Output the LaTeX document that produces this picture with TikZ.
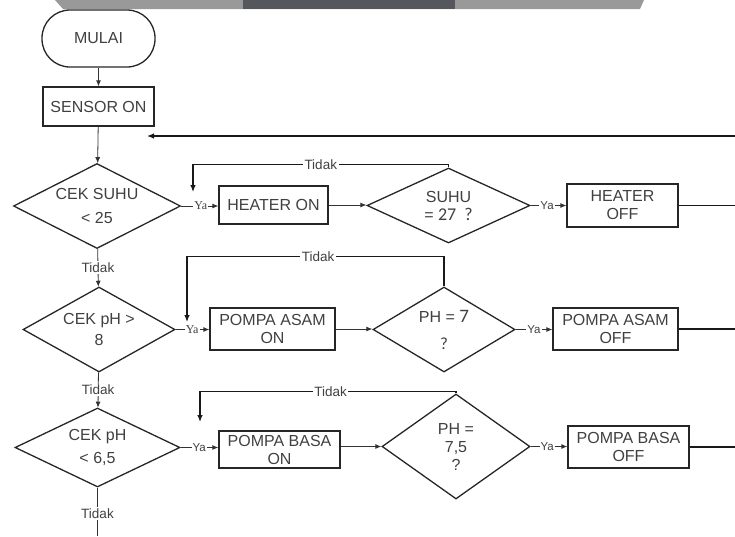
\documentclass[tikz,border=0pt]{standalone}
\usepackage{fontspec}
\setmainfont{Liberation Sans}
\newfontfamily\serifya{Liberation Serif}
\newfontfamily\calib{Carlito}
\usetikzlibrary{shapes.geometric,arrows.meta}
\begin{document}
\begin{tikzpicture}[x=1pt,y=-1pt,
  every node/.style={text=black!75},
  every label/.style={text=black!75,align=center,inner sep=0pt,font=\fontsize{16}{18}\selectfont},
  box/.style={draw=black!85,line width=1.3pt,rectangle,inner sep=0pt,align=center,font=\fontsize{16}{18}\selectfont},
  term/.style={box,rounded corners=28pt},
  dec/.style={draw=black!85,line width=1.3pt,diamond,inner sep=0pt},
  conn/.style={draw=black!80,line width=0.8pt},
  arr/.style={conn,-{Latex[length=6pt,width=5pt]}},
  looparr/.style={draw=black!90,line width=1.2pt,-{Latex[length=7pt,width=5.5pt]}},
  exitln/.style={draw=black!90,line width=1.1pt},
  lbl/.style={fill=white,inner sep=1.5pt,font=\fontsize{13.5}{13.5}\selectfont},
  ya/.style={fill=white,inner sep=1pt,font=\fontsize{11.5}{11.5}\selectfont},
  yaser/.style={fill=white,inner sep=1pt,font=\serifya\fontsize{12}{12}\selectfont},
]
\useasboundingbox (0,0) rectangle (735,536);
% banner at the top
\fill[black!40] (55,0) -- (644,0) -- (640,9) -- (63,9) -- cycle;
\fill[color={rgb,255:red,86;green,87;blue,92}] (243,0) rectangle (455,9);

% main column
\node[term,minimum width=113pt,minimum height=57pt] (mulai) at (98.5,38.5) {MULAI};
\node[box,minimum width=111pt,minimum height=39pt] (sensor) at (98.5,106.5) {SENSOR ON};

\node[dec,minimum width=167pt,minimum height=85pt,
  label={center:CEK SUHU\\[6pt]< 25}] (d1) at (97,206) {};
\node[dec,minimum width=152pt,minimum height=85pt,
  label={center:CEK pH >\\[3pt]8}] (d2) at (99,329.5) {};
\node[dec,minimum width=165pt,minimum height=79pt,
  label={center:CEK pH\\[5pt]< 6,5}] (d3) at (97.5,447.5) {};

% row 1
\node[box,minimum width=109pt,minimum height=38pt] (hon) at (273.5,205) {HEATER ON};
\node[dec,minimum width=163pt,minimum height=75pt,
  label={center:SUHU\\= {\calib\fontsize{18}{18}\selectfont 27\ \ ?}}] (suhu) at (448.5,205.5) {};
\node[box,minimum width=111pt,minimum height=43pt] (hoff) at (622.5,205.5) {HEATER\\OFF};

% row 2
\node[box,minimum width=125pt,minimum height=42pt] (aon) at (272.5,329) {POMPA ASAM\\ON};
\node[dec,minimum width=142pt,minimum height=85pt,
  label={center:PH = {\calib\fontsize{19}{18}\selectfont 7}\\[9pt]{\calib\fontsize{17}{18}\selectfont ?}}] (ph7) at (444,329.5) {};
\node[box,minimum width=125pt,minimum height=42pt] (aoff) at (615.5,329) {POMPA ASAM\\OFF};

% row 3
\node[box,minimum width=121pt,minimum height=37pt] (bon) at (279.5,449.5) {POMPA BASA\\ON};
\node[dec,minimum width=148pt,minimum height=105pt,
  label={center:PH =\\7,5\\?}] (ph75) at (456,446.5) {};
\node[box,minimum width=121pt,minimum height=42pt] (boff) at (628.5,447) {POMPA BASA\\OFF};

% coordinates
\coordinate (r0) at (735,136);
\coordinate (r1) at (147,136);
\coordinate (t1) at (193,192);
\coordinate (t2) at (187,322);
\coordinate (t3) at (200,422);
\coordinate (e1) at (735,205.5);
\coordinate (e2) at (735,329);
\coordinate (e3) at (735,447);
\coordinate (bot) at (97.5,536);

% main flow
\draw[arr] (mulai) -- (sensor);
\draw[arr] (sensor) -- (d1);
\draw[arr] (d1) -- node[lbl]{Tidak} (d2);
\draw[arr] (d2) -- node[lbl]{Tidak} (d3);
\draw[conn] (d3.south) -- node[lbl,pos=0.53]{Tidak} (bot);
\draw[looparr] (r0) -- (r1);

% row 1 links
\draw[arr] (d1.east) -- node[yaser,pos=0.53]{Ya} (d1.east -| hon.west);
\draw[arr] (hon.east) -- (hon.east -| suhu.west);
\draw[arr] (suhu.east) -- node[ya,pos=0.46]{Ya} (hoff.west);
\draw[exitln] (hoff.east) -- (e1);
\draw[looparr] (suhu.north) -- ++(0,-3) -| node[lbl,pos=0.25]{Tidak} (t1);

% row 2 links
\draw[arr] (d2.east) -- node[yaser,pos=0.49]{Ya} (d2.east -| aon.west);
\draw[arr] (aon.east) -- (aon.east -| ph7.west);
\draw[arr] (ph7.east) -- node[ya,pos=0.5]{Ya} (ph7.east -| aoff.west);
\draw[exitln] (aoff.east) -- (e2);
\draw[looparr] (ph7.north) -- ++(0,-30) -| node[lbl,pos=0.245]{Tidak} (t2);

% row 3 links
\draw[arr] (d3.east) -- node[ya,pos=0.49]{Ya} (d3.east -| bon.west);
\draw[arr] (ph75.west -| bon.east) -- (ph75.west);
\draw[arr] (ph75.east) -- node[ya,pos=0.45]{Ya} (ph75.east -| boff.west);
\draw[exitln] (boff.east) -- (e3);
\draw[looparr] (ph75.north) -- ++(0,-2) -| node[lbl,pos=0.245]{Tidak} (t3);
\end{tikzpicture}
\end{document}
